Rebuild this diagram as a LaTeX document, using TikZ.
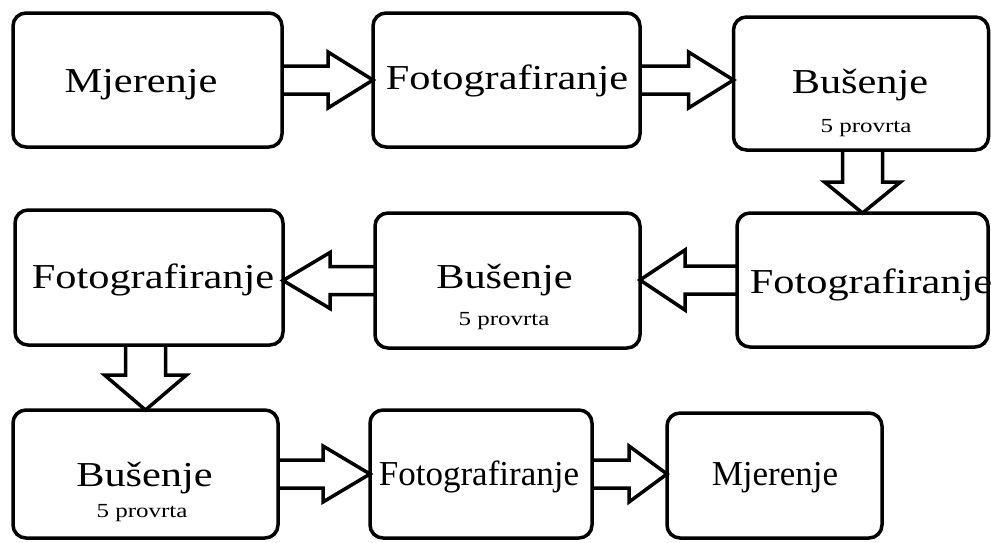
\documentclass[tikz,border=0pt]{standalone}
\usepackage{fontspec}
\setmainfont{Liberation Serif}
\newfontfamily\widefont{Liberation Serif}[FakeStretch=1.21]
\newfontfamily\narrowfont{Liberation Serif}
\newfontfamily\smallfont{Liberation Serif}[FakeStretch=1.25]
\usetikzlibrary{calc}
\tikzset{
  box/.style={draw, line width=3.5pt, rounded corners=13pt, inner sep=0pt, outer sep=0pt},
  blk/.style={draw, line width=3.5pt, line join=miter},
  bigw/.style={font=\widefont\fontsize{35}{40}\selectfont, inner sep=0pt, anchor=base},
  bign/.style={font=\narrowfont\fontsize{35}{40}\selectfont, inner sep=0pt, anchor=base},
  sml/.style={font=\smallfont\fontsize{20}{24}\selectfont, inner sep=0pt, anchor=base}
}
\begin{document}
\begin{tikzpicture}[x=1pt,y=-1pt]
\useasboundingbox (0,0) rectangle (991,542);
% boxes
\node[box, minimum width=269pt, minimum height=134pt] (A) at (147.5,80) {};
\node[box, minimum width=267pt, minimum height=134pt] (B) at (506.5,80) {};
\node[box, minimum width=255pt, minimum height=133pt] (C) at (861,83.5) {};
\node[box, minimum width=251pt, minimum height=134pt] (D) at (862.5,280) {};
\node[box, minimum width=265pt, minimum height=135pt] (E) at (507.5,280.5) {};
\node[box, minimum width=268pt, minimum height=135pt] (F) at (149,277.5) {};
\node[box, minimum width=265pt, minimum height=128pt] (G) at (145.5,474) {};
\node[box, minimum width=222pt, minimum height=128pt] (H) at (481,474) {};
\node[box, minimum width=215pt, minimum height=125pt] (I) at (774.5,475.5) {};
% texts
\node[bigw] (At) at (141,92) {Mjerenje};
\node[bigw] (Bt) at (507,89) {Fotografiranje};
\node[bigw] (Ct) at (860,93) {Bušenje};
\node[sml] (Cs) at (866,132) {5 provrta};
\node[bigw] (Dt) at (871,293) {Fotografiranje};
\node[bigw] (Et) at (504.5,288) {Bušenje};
\node[sml] (Es) at (504,325) {5 provrta};
\node[bigw] (Ft) at (153,288) {Fotografiranje};
\node[bigw] (Gt) at (144.5,486) {Bušenje};
\node[sml] (Gs) at (142,517) {5 provrta};
\node[bign] (Ht) at (479,485) {Fotografiranje};
\node[bign] (It) at (775,485) {Mjerenje};
% helper coordinates (arrow tips / starts kept horizontal or vertical)
\coordinate (ab) at (B.west |- A.east);
\coordinate (bc) at (C.west |- B.east);
\coordinate (cd) at (C.south -| D.north);
\coordinate (de) at (E.east |- D.west);
\coordinate (ef) at (F.east |- E.west);
\coordinate (fg) at (F.south -| G.north);
\coordinate (gh) at (H.west |- G.east);
\coordinate (hi) at (I.west |- H.east);
% block arrows
\draw[blk] ($(A.east)+(0,-14)$) -- ($(ab)+(-45,-14)$) -- ($(ab)+(-45,-28)$) -- (ab)
  -- ($(ab)+(-45,28)$) -- ($(ab)+(-45,14)$) -- ($(A.east)+(0,14)$);
\draw[blk] ($(B.east)+(0,-14)$) -- ($(bc)+(-45,-14)$) -- ($(bc)+(-45,-28)$) -- (bc)
  -- ($(bc)+(-45,28)$) -- ($(bc)+(-45,14)$) -- ($(B.east)+(0,14)$);
\draw[blk] ($(cd)+(-20,0)$) -- ($(D.north)+(-20,-31)$) -- ($(D.north)+(-38,-31)$) -- (D.north)
  -- ($(D.north)+(38,-31)$) -- ($(D.north)+(20,-31)$) -- ($(cd)+(20,0)$);
\draw[blk] ($(D.west)+(0,-14)$) -- ($(de)+(45,-14)$) -- ($(de)+(45,-30)$) -- (de)
  -- ($(de)+(45,30)$) -- ($(de)+(45,14)$) -- ($(D.west)+(0,14)$);
\draw[blk] ($(E.west)+(0,-14)$) -- ($(ef)+(47,-14)$) -- ($(ef)+(47,-28)$) -- (ef)
  -- ($(ef)+(47,28)$) -- ($(ef)+(47,14)$) -- ($(E.west)+(0,14)$);
\draw[blk] ($(fg)+(-20,0)$) -- ($(G.north)+(-20,-35)$) -- ($(G.north)+(-41,-35)$) -- (G.north)
  -- ($(G.north)+(41,-35)$) -- ($(G.north)+(20,-35)$) -- ($(fg)+(20,0)$);
\draw[blk] ($(G.east)+(0,-14)$) -- ($(gh)+(-47,-14)$) -- ($(gh)+(-47,-28)$) -- (gh)
  -- ($(gh)+(-47,28)$) -- ($(gh)+(-47,14)$) -- ($(G.east)+(0,14)$);
\draw[blk] ($(H.east)+(0,-14)$) -- ($(hi)+(-38,-14)$) -- ($(hi)+(-38,-28)$) -- (hi)
  -- ($(hi)+(-38,28)$) -- ($(hi)+(-38,14)$) -- ($(H.east)+(0,14)$);
\end{tikzpicture}
\end{document}
